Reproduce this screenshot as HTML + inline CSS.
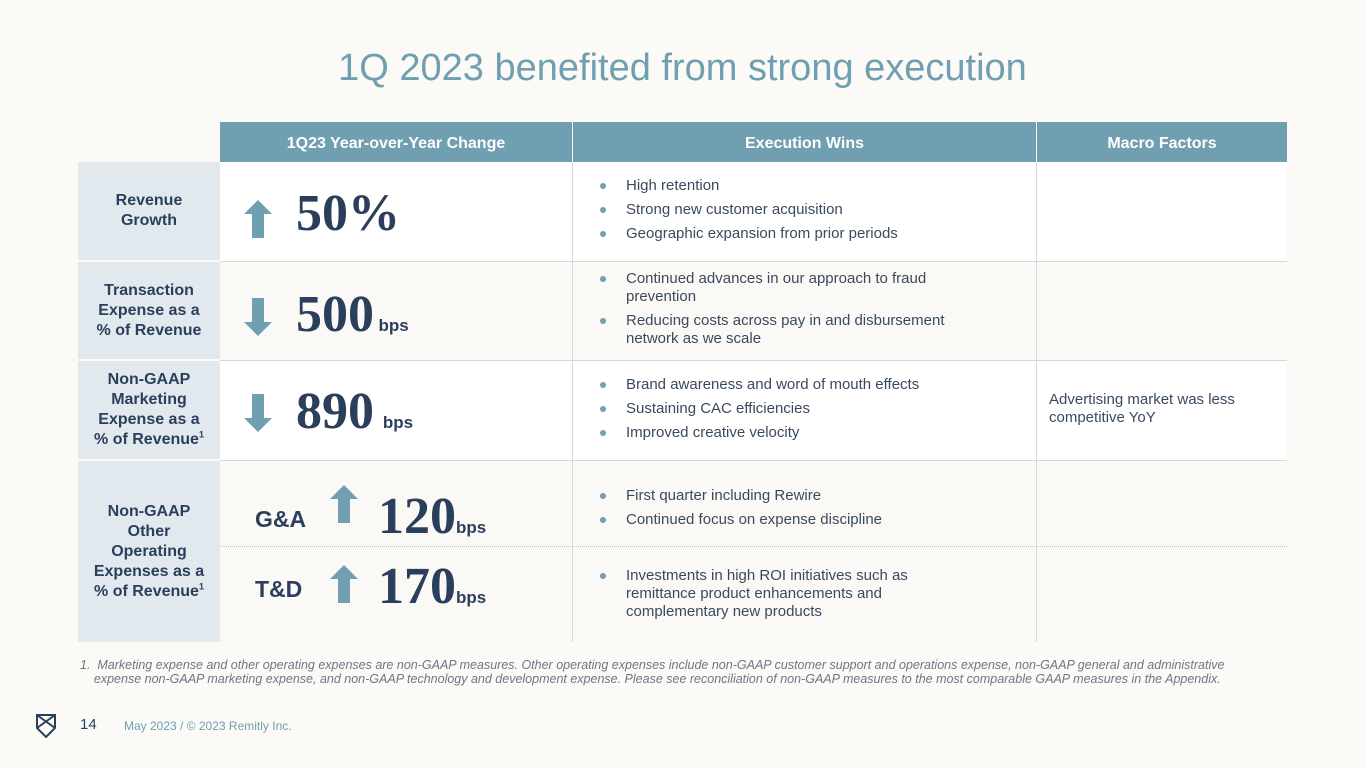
<!DOCTYPE html>
<html><head><meta charset="utf-8"><style>
body{margin:0;width:1365px;height:768px;background:#fbfaf7;position:relative;overflow:hidden;font-family:"Liberation Sans",sans-serif;color:#2b3f5c}
.a{position:absolute}
.hd{background:#6f9fb0;color:#fff;font-weight:bold;font-size:16px;display:flex;align-items:center;justify-content:center;height:40px;top:122px;padding-top:3px;box-sizing:border-box}
.lab{left:78px;width:142px;background:#e1e9ee;font-weight:bold;font-size:16px;text-align:center;display:flex;align-items:center;justify-content:center;line-height:20px}
ul{margin:0;padding:0;list-style:none}
li{position:relative;padding-left:53px;font-size:15px;line-height:18px;color:#3a4a5e;margin-bottom:6px}
li:before{content:"";position:absolute;left:27px;top:6px;width:6px;height:6px;border-radius:50%;background:#6f9fb0}
.big{font-family:"Liberation Serif",serif;font-weight:bold;font-size:52px;color:#2b3f5c}
.bps{font-weight:bold;font-size:17px}
sup{font-size:9px;line-height:0}
</style></head><body>
<div class="a" style="top:47px;left:0;width:1365px;text-align:center;font-size:38px;color:#6f9fb0">1Q 2023 benefited from strong execution</div>

<div class="a hd" style="left:220px;width:352px">1Q23 Year-over-Year Change</div>
<div class="a hd" style="left:573px;width:463px">Execution Wins</div>
<div class="a hd" style="left:1037px;width:250px">Macro Factors</div>

<div class="a" style="left:220px;top:162px;width:1067px;height:99px;background:#fff"></div>
<div class="a" style="left:220px;top:261px;width:1067px;height:99px;background:#faf9f6"></div>
<div class="a" style="left:220px;top:360px;width:1067px;height:100px;background:#fff"></div>
<div class="a" style="left:220px;top:460px;width:1067px;height:182px;background:#faf9f6"></div>
<div class="a" style="left:220px;top:261px;width:1067px;border-top:1.5px solid #d8d8d8"></div>
<div class="a" style="left:220px;top:360px;width:1067px;border-top:1.5px solid #d8d8d8"></div>
<div class="a" style="left:220px;top:460px;width:1067px;border-top:1.5px solid #d8d8d8"></div>
<div class="a" style="left:572px;top:162px;height:480px;border-left:1px solid #d8d8d8"></div>
<div class="a" style="left:1036px;top:162px;height:480px;border-left:1px solid #d8d8d8"></div>
<div class="a" style="left:220px;top:546px;width:1067px;border-top:1.5px dotted #b9c4cc"></div>

<div class="a lab" style="top:162px;height:98px"><div>Revenue<br>Growth</div></div>
<div class="a lab" style="top:262px;height:97px"><div>Transaction<br>Expense as a<br>% of Revenue</div></div>
<div class="a lab" style="top:361px;height:98px"><div>Non-GAAP<br>Marketing<br>Expense as a<br>% of Revenue<sup>1</sup></div></div>
<div class="a lab" style="top:461px;height:181px"><div>Non-GAAP<br>Other<br>Operating<br>Expenses as a<br>% of Revenue<sup>1</sup></div></div>

<svg class="a" style="left:244px;top:200px" width="28" height="40"><polygon points="14,0 28,14 20,14 20,38 8,38 8,14 0,14" fill="#6f9fb0"/></svg>
<svg class="a" style="left:244px;top:298px" width="28" height="40"><polygon points="8,0 20,0 20,24 28,24 14,38 0,24 8,24" fill="#6f9fb0"/></svg>
<svg class="a" style="left:244px;top:394px" width="28" height="40"><polygon points="8,0 20,0 20,24 28,24 14,38 0,24 8,24" fill="#6f9fb0"/></svg>
<svg class="a" style="left:330px;top:485px" width="28" height="40"><polygon points="14,0 28,14 20,14 20,38 8,38 8,14 0,14" fill="#6f9fb0"/></svg>
<svg class="a" style="left:330px;top:565px" width="28" height="40"><polygon points="14,0 28,14 20,14 20,38 8,38 8,14 0,14" fill="#6f9fb0"/></svg>

<div class="a" style="left:296px;top:184px"><span class="big">50%</span></div>
<div class="a" style="left:296px;top:285px"><span class="big">500</span> <span class="bps">bps</span></div>
<div class="a" style="left:296px;top:382px"><span class="big">890</span> &nbsp;<span class="bps">bps</span></div>
<div class="a" style="left:255px;top:506px;font-weight:bold;font-size:23px">G&amp;A</div>
<div class="a" style="left:378px;top:487px"><span class="big">120</span><span class="bps">bps</span></div>
<div class="a" style="left:255px;top:576px;font-weight:bold;font-size:23px">T&amp;D</div>
<div class="a" style="left:378px;top:557px"><span class="big">170</span><span class="bps">bps</span></div>

<ul class="a" style="left:573px;top:177px;width:440px"><li>High retention</li><li>Strong new customer acquisition</li><li>Geographic expansion from prior periods</li></ul>
<ul class="a" style="left:573px;top:270px;width:415px"><li>Continued advances in our approach to fraud prevention</li><li>Reducing costs across pay in and disbursement network as we scale</li></ul>
<ul class="a" style="left:573px;top:376px;width:440px"><li>Brand awareness and word of mouth effects</li><li>Sustaining CAC efficiencies</li><li>Improved creative velocity</li></ul>
<ul class="a" style="left:573px;top:487px;width:440px"><li>First quarter including Rewire</li><li>Continued focus on expense discipline</li></ul>
<ul class="a" style="left:573px;top:567px;width:380px"><li>Investments in high ROI initiatives such as remittance product enhancements and complementary new products</li></ul>
<div class="a" style="left:1049px;top:391px;width:230px;font-size:15px;line-height:18px;color:#3a4a5e">Advertising market was less competitive YoY</div>

<div class="a" style="left:80px;top:658px;width:1220px;font-size:12.5px;font-style:italic;color:#6b7785;line-height:14px;white-space:nowrap">1.&nbsp; Marketing expense and other operating expenses are non-GAAP measures. Other operating expenses include non-GAAP customer support and operations expense, non-GAAP general and administrative<br>&nbsp;&nbsp;&nbsp;&nbsp;expense non-GAAP marketing expense, and non-GAAP technology and development expense. Please see reconciliation of non-GAAP measures to the most comparable GAAP measures in the Appendix.</div>

<svg class="a" style="left:36px;top:714px" width="20" height="24"><path d="M1,1 H19 V14 L10,23 L1,14 Z M1,1 L19,14 M19,1 L1,14" fill="none" stroke="#2b3f5c" stroke-width="2"/></svg>
<div class="a" style="left:80px;top:716px;font-size:15px">14</div>
<div class="a" style="left:124px;top:719px;font-size:12px;color:#6f9fb0">May 2023 / © 2023 Remitly Inc.</div>
</body></html>
